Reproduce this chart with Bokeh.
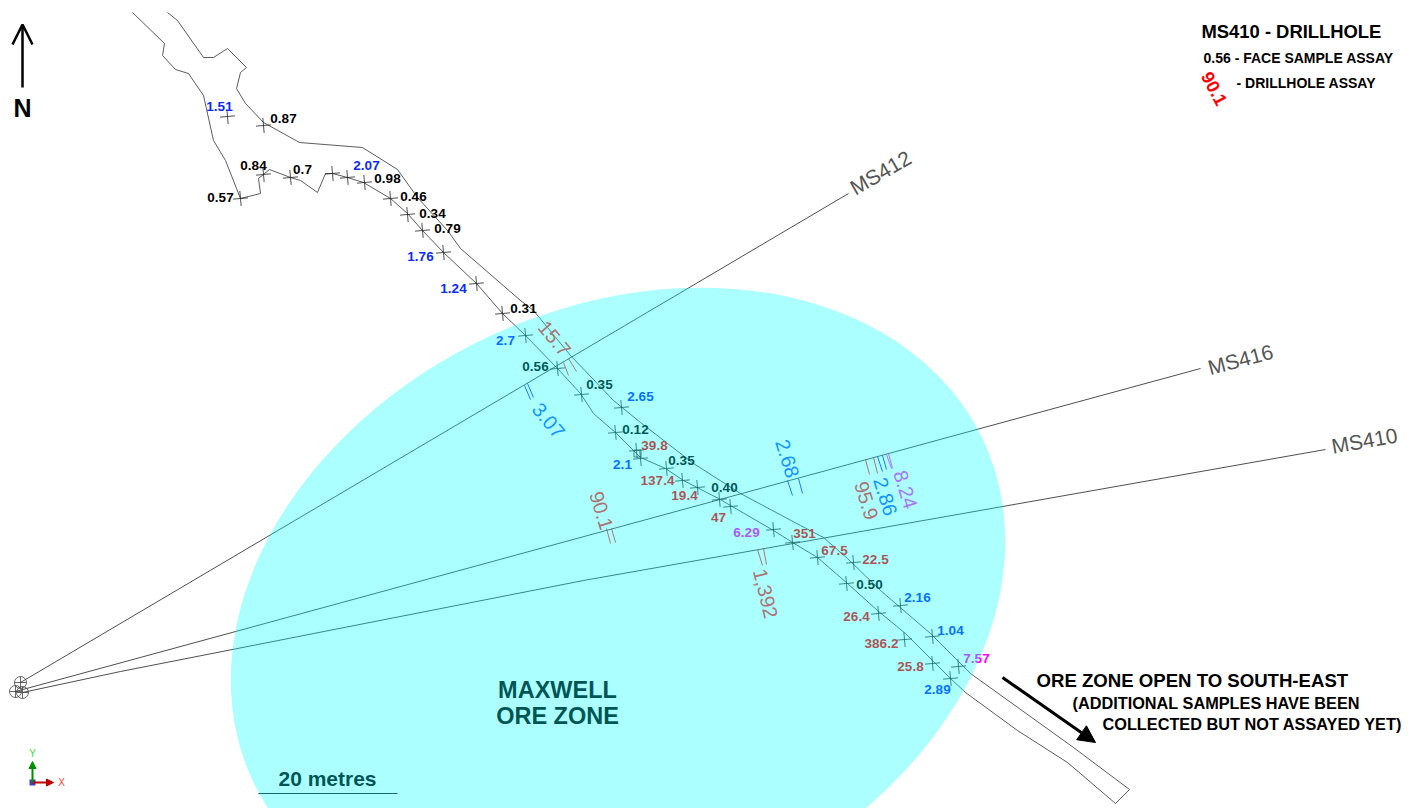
from bokeh.plotting import figure
from bokeh.models import Range1d, Arrow, NormalHead, OpenHead
from bokeh.core.properties import value
from bokeh.embed import file_html
from bokeh.resources import INLINE

# ---- map data (plan coordinates) ----
wall_x = [167,177,203,213,227,246,240,236,245,263,299,362,397,417,447,460,520,533,570,613,640,693,740,800,823,847,880,930,970,1073,1129,1115,
          1067,1017,965,950,905,877,847,817,792,773,730,718,683,665,640,615,593,580,557,525,502,476,443,422,407,390,363,347,332,325,317,300,290,269,258,260,240,225,213,203,188,175,162,164,132]
wall_y = [12,20,57,57,48,67,72,88,103,122,142,147,169,197,230,248,300,310,355,400,422,463,493,525,537,558,590,633,673,747,789,803,
          762,730,692,678,633,610,583,557,542,530,505,498,480,468,457,432,413,393,368,335,313,283,252,230,213,198,182,177,173,173,192,180,177,169,178,193,198,160,140,95,73,69,55,43,12]

sample_x = [227,263,263,290,332,347,364,390,407,422,443,476,502,240,525,557,581,621,615,636,640,666,682,697,719,730,773,792,817,853,846,878,900,904,932,932,958,950]
sample_y = [116,125,174,177,173,177,182,198,214,230,252,283,313,198,335,368,394,407,432,450,458,468,480,487,499,506,529,542,557,562,583,613,605,639,636,663,666,678]

holes = ["MS412", "MS416", "MS410"]
hole_x = [[20,848], [15,1200], [22,120,583,1325]]
hole_y = [[682,193], [691,368], [692,671,580,449]]
hole_label_x = [880, 1240, 1364]
hole_label_y = [172, 359, 440]
hole_label_deg = [30, 15, 10]
collar_x = [20, 15, 22]
collar_y = [682, 691, 692]

black_txt = ["0.87","0.84","0.7","0.98","0.46","0.34","0.79","0.57","0.31","0.56","0.35","0.12","0.35","0.40","0.50"]
black_x = [283,253,302,387,413,432,447,220,523,535,599,635,681,724,869]
black_y = [118,165,169,178,196,213,228,197,308,366,384,429,460,487,584]

blue_txt = ["1.51","2.07","1.76","1.24","2.7","2.65","2.1","2.16","1.04","2.89"]
blue_x = [219,366,420,453,505,640,622,917,950,937]
blue_y = [106,165,256,288,340,396,464,597,630,689]

red_txt = ["39.8","137.4","19.4","47","351","67.5","22.5","26.4","386.2","25.8"]
red_x = [654,657,684,718,804,834,875,856,881,910]
red_y = [445,480,495,517,533,550,559,616,643,666]

magenta_txt = ["6.29","7.57"]
magenta_x = [746,976]
magenta_y = [532,658]

dh_txt = ["15.7","3.07","90.1","1,392","2.68","95.9","2.86","8.24"]
dh_x = [554,548,601,765,787,866,885,905]
dh_y = [338,420,510,593,458,500,496,489]
dh_deg = [-50,-50,-73,-76,-73,-73,-73,-73]
dh_col = ["#ff3030","#2060ff","#ff3030","#ff3030","#2060ff","#ff3030","#2060ff","#ff30ff"]

tick_x0 = [568,563,527,524,606,611,787,798,757,763,865,873,877,882,886,888]
tick_y0 = [358,362,383,385,528,528,480,478,549,548,459,457,456,455,454,453]
tick_x1 = [576,568,533,530,610,615,792,802,762,766,869,877,882,886,891,892]
tick_y1 = [371,375,397,399,543,542,495,493,565,564,474,473,471,469,468,468]
tick_col = ["#ff0000","#ff0000","#0000ff","#0000ff","#ff0000","#ff0000","#0000ff","#0000ff","#ff0000","#ff0000","#ff0000","#ff0000","#0000ff","#0000ff","#ff00ff","#ff00ff"]

BOLD = value("Liberation Sans")

p = figure(width=1415, height=808, x_range=Range1d(0, 1415), y_range=Range1d(808, 0),
           toolbar_location=None, output_backend="svg", min_border=0,
           outline_line_color=None, x_axis_type=None, y_axis_type=None)
p.grid.visible = False
p.background_fill_color = "white"

# drive outline
p.line(wall_x, wall_y, line_color="#333333", line_width=0.8)
# drillholes
p.multi_line(hole_x, hole_y, line_color="#222222", line_width=0.8)
p.text(hole_label_x, hole_label_y, text=holes, angle=hole_label_deg, angle_units="deg",
       text_font=BOLD, text_font_size="21px", text_color="#555555",
       text_align="center", text_baseline="middle")
p.scatter(collar_x, collar_y, size=12, marker="circle_cross", fill_color=None,
          line_color="#444444", line_width=0.8)

# sample crosses
p.scatter(sample_x, sample_y, size=15, marker="cross", angle=5, angle_units="deg",
          line_color="#222222", line_width=0.8)
p.scatter([637], [453], size=7, marker="square", fill_color=None, line_color="#222222", line_width=0.8)

# labels
def labels(xs, ys, txt, col):
    p.text(xs, ys, text=txt, text_font=BOLD, text_font_style="bold", text_font_size="13.5px",
           text_color=col, text_align="center", text_baseline="middle")
labels(black_x, black_y, black_txt, "#000000")
labels(blue_x, blue_y, blue_txt, "#0a2aff")
labels(red_x, red_y, red_txt, "#ff0000")
labels(magenta_x, magenta_y, magenta_txt, "#ff00ff")

# drillhole assays
p.text(dh_x, dh_y, text=dh_txt, angle=dh_deg, angle_units="deg", text_font=BOLD,
       text_font_size="20px", text_color=dh_col, text_align="center", text_baseline="middle")
p.segment(tick_x0, tick_y0, tick_x1, tick_y1, line_color=tick_col, line_width=0.8)

# titles under the overlay
p.text([557,557],[689,715], text=["MAXWELL","ORE ZONE"], text_font=BOLD, text_font_style="bold",
       text_font_size="23.5px", text_color="#000000", text_align="center", text_baseline="middle")
p.text([327],[778], text=["20 metres"], text_font=BOLD, text_font_style="bold",
       text_font_size="21px", text_color="#000000", text_align="center", text_baseline="middle")
p.line([258,397],[793,793], line_color="#222222", line_width=1)

# ore zone overlay
p.ellipse([617.5],[610], width=[806], height=[606], angle=24.8, angle_units="deg",
          fill_color="#00ffff", fill_alpha=0.33, line_color=None)

# north arrow
p.add_layout(Arrow(end=OpenHead(size=20, line_width=2.5, line_color="#000000"),
                   x_start=22, y_start=87, x_end=22, y_end=24, line_width=2.5, line_color="#000000"))
p.text([22],[107], text=["N"], text_font=BOLD, text_font_style="bold", text_font_size="25px",
       text_align="center", text_baseline="middle", text_color="#000000")

# ore open arrow
p.add_layout(Arrow(end=NormalHead(size=17, line_color="#000000", fill_color="#000000"),
                   x_start=1002, y_start=677, x_end=1095, y_end=742, line_width=3, line_color="#000000"))
p.text([1036,1072,1102],[680,702,723],
       text=["ORE ZONE OPEN TO SOUTH-EAST","(ADDITIONAL SAMPLES HAVE BEEN","COLLECTED BUT NOT ASSAYED YET)"],
       text_font=BOLD, text_font_style="bold", text_font_size=["18.6px","16.3px","16.3px"],
       text_color="#000000", text_align="left", text_baseline="middle")

# legend
p.text([1201,1203,1236],[31,57,82],
       text=["MS410 - DRILLHOLE","0.56 - FACE SAMPLE ASSAY","- DRILLHOLE ASSAY"],
       text_font=BOLD, text_font_style="bold", text_font_size=["18.4px","14px","14px"],
       text_color="#000000", text_align="left", text_baseline="middle")
p.text([1214],[88], text=["90.1"], angle=-62, angle_units="deg", text_font=BOLD, text_font_style="bold",
       text_font_size="18px", text_color="#ff0000", text_align="center", text_baseline="middle")

# view triad
p.add_layout(Arrow(end=NormalHead(size=7, line_color="#c00000", fill_color="#c00000"),
                   x_start=32, y_start=782, x_end=53, y_end=782, line_width=2, line_color="#c00000"))
p.add_layout(Arrow(end=NormalHead(size=7, line_color="#009000", fill_color="#009000"),
                   x_start=32, y_start=782, x_end=32, y_end=761, line_width=2, line_color="#009000"))
p.scatter([32],[782], size=6, marker="square", fill_color="#4040c0", line_color=None)
p.text([61,32],[782,753], text=["X","Y"], text_font=BOLD, text_font_size="10px",
       text_color=["#ff4040","#40e040"], text_align="center", text_baseline="middle")

open("out.html", "w").write(file_html(p, INLINE))
